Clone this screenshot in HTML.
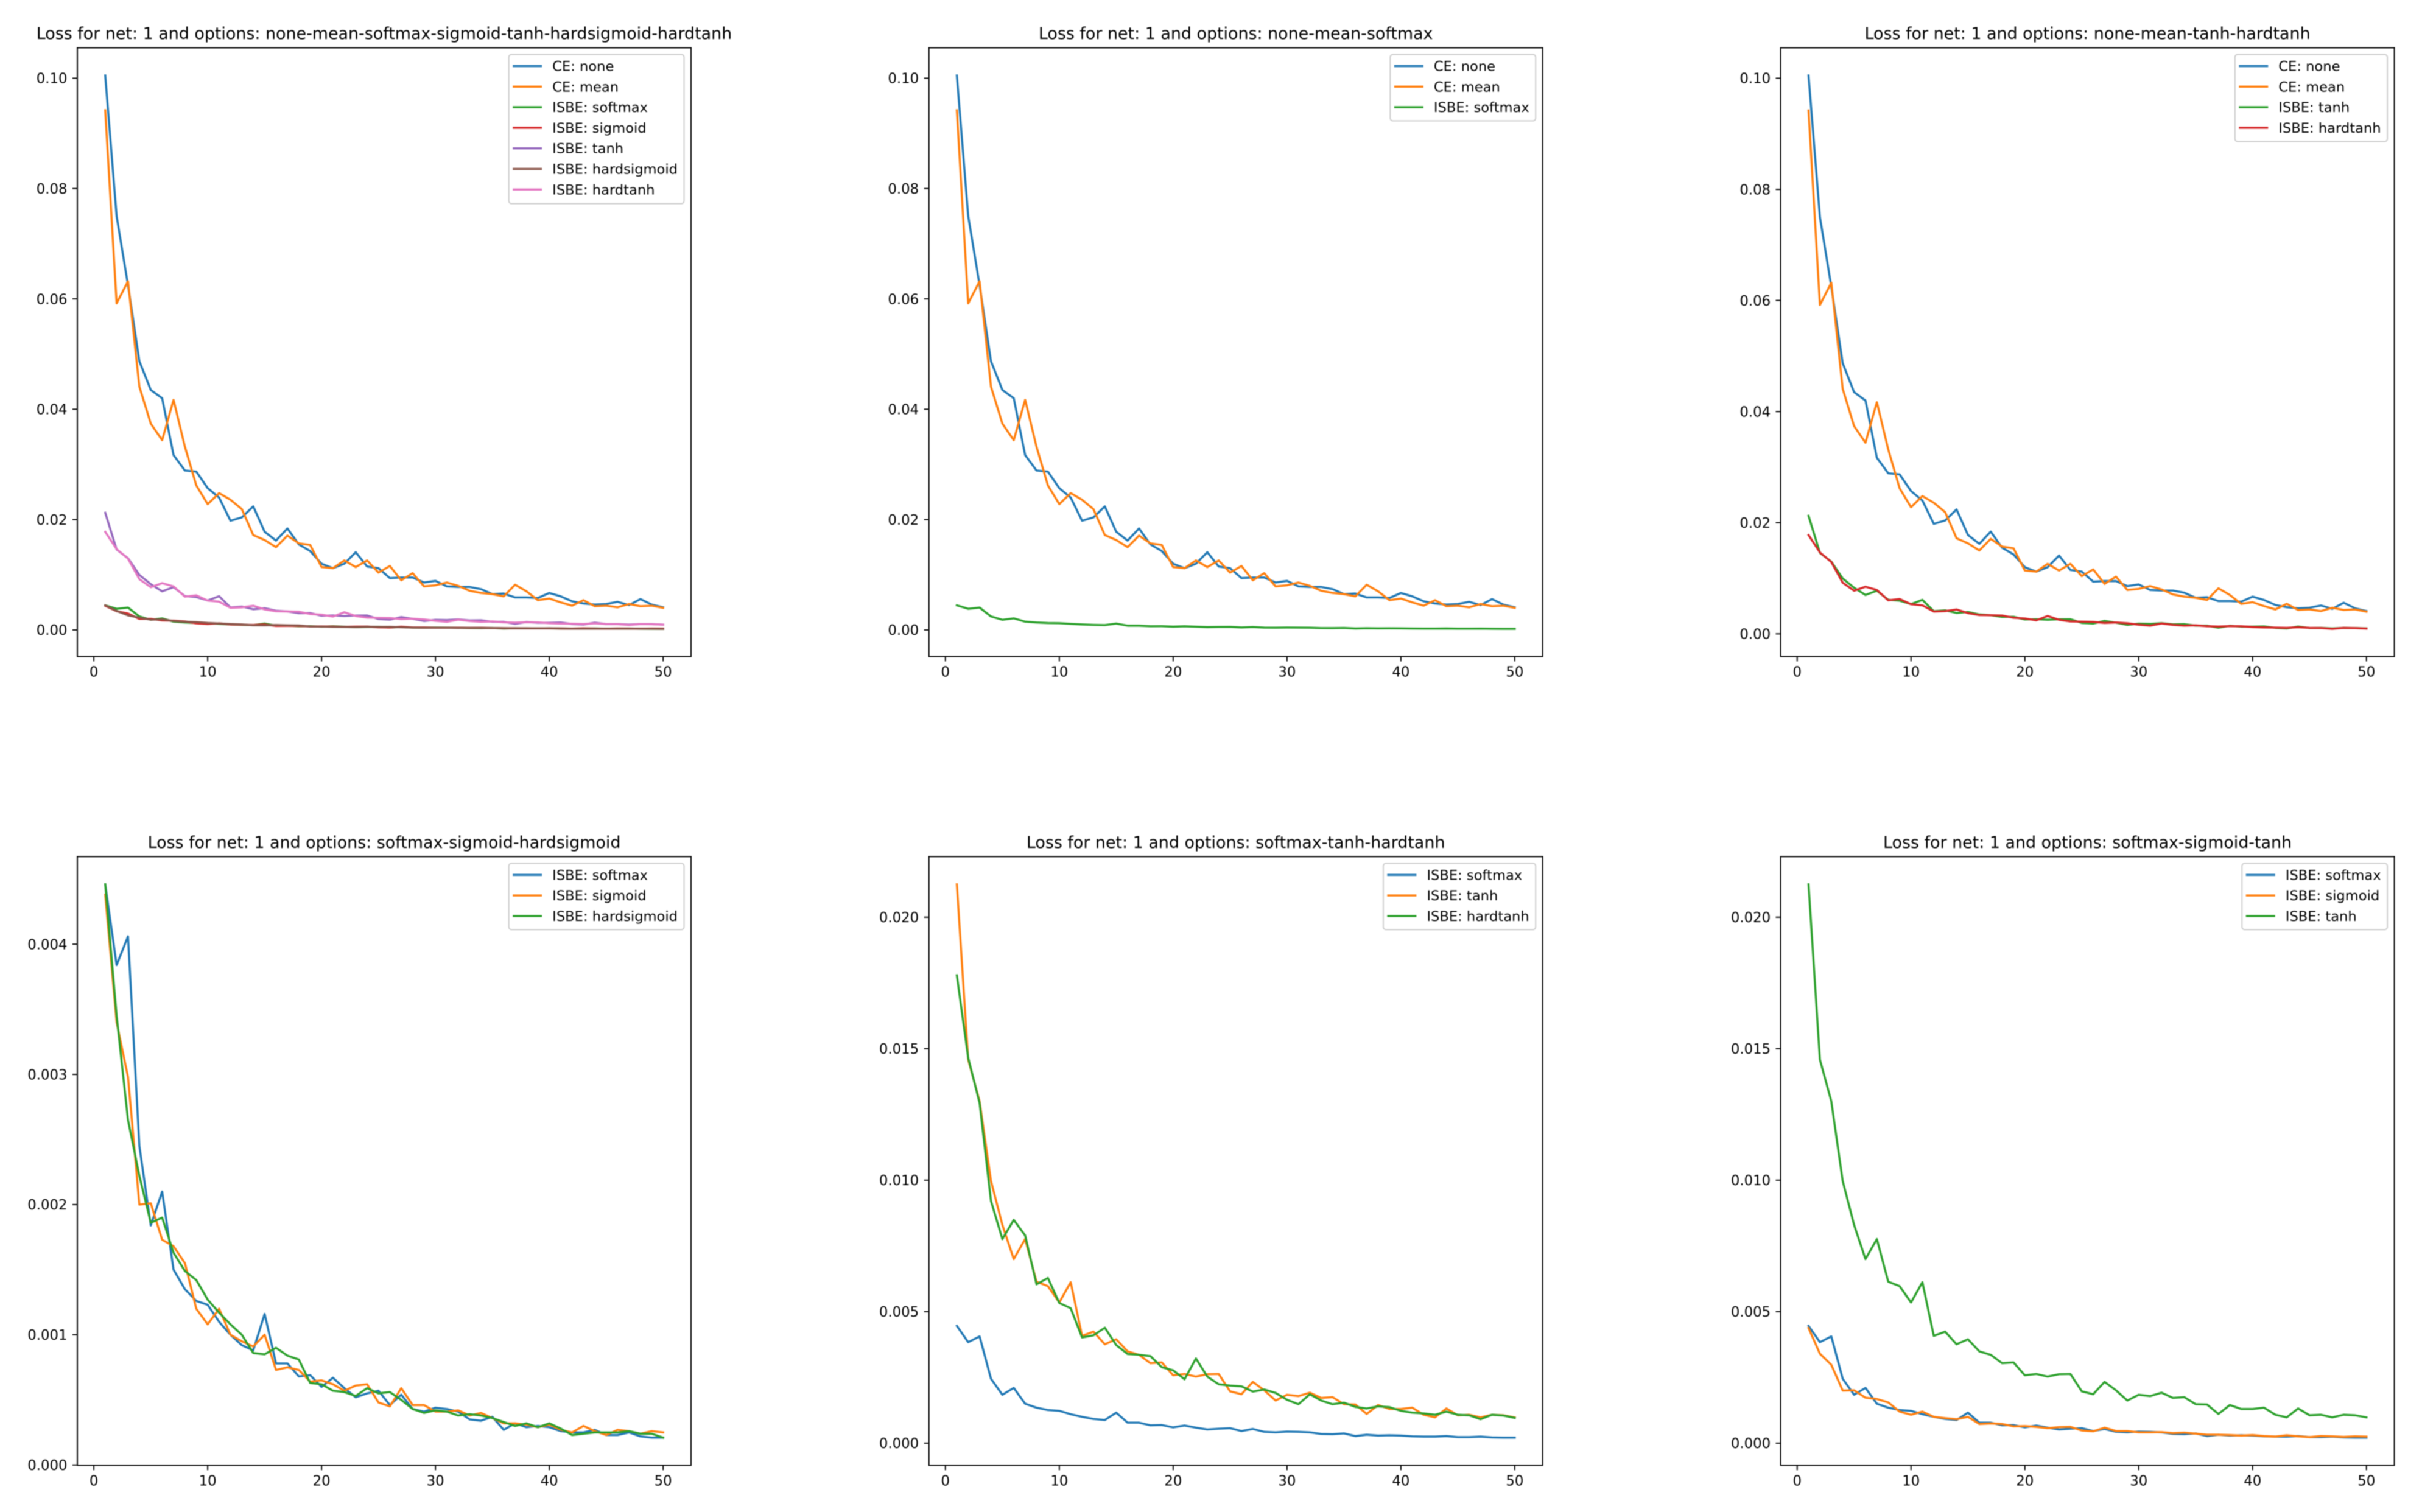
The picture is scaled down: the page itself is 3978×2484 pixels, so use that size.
<!DOCTYPE html>
<html lang="en">
<head>
<meta charset="utf-8">
<title>Loss comparison charts</title>
<style>
html,body{margin:0;padding:0;background:#fff;width:3978px;height:2484px;overflow:hidden}
#figure{display:block;filter:blur(0.9px)}
text{font-family:"DejaVu Sans","Liberation Sans",sans-serif;fill:#000}
</style>
</head>
<body>
<svg id="figure" xmlns="http://www.w3.org/2000/svg" width="3978" height="2484" viewBox="0 0 3978 2484"></svg>
<script>
const epochs = [1,2,3,4,5,6,7,8,9,10,11,12,13,14,15,16,17,18,19,20,21,22,23,24,25,26,27,28,29,30,31,32,33,34,35,36,37,38,39,40,41,42,43,44,45,46,47,48,49,50];

const ceNone = [.1005,.0750,.0625,.0487,.0435,.0420,.0317,.0289,.0287,.0257,.0240,.0198,.0204,.0224,.0178,.0162,.0184,.0155,.0143,.0120,.0112,.0120,.0141,.0115,.0112,.0094,.0095,.0095,.0086,.0089,.0079,.0078,.0078,.0074,.0065,.0066,.0059,.0059,.0058,.0067,.0061,.0052,.0048,.0046,.0047,.0051,.0045,.0056,.0046,.0041];
const ceMean = [.0942,.0592,.0632,.0441,.0374,.0344,.0417,.0332,.0262,.0228,.0248,.0236,.0219,.0172,.0163,.0150,.0171,.0157,.0154,.0114,.0112,.0126,.0114,.0126,.0104,.0116,.0090,.0103,.0079,.0081,.0086,.0080,.0071,.0067,.0065,.0061,.0082,.0070,.0054,.0057,.0050,.0044,.0054,.0043,.0044,.0041,.0047,.0043,.0044,.0040];
const isbeSoftmax = [.00446,.00384,.00406,.00245,.00184,.00210,.00150,.00135,.00126,.00123,.00110,.00100,.00092,.00088,.00116,.00078,.00078,.00068,.00069,.00060,.00067,.00059,.00052,.00055,.00057,.00046,.00054,.00043,.00041,.00044,.00043,.00041,.00035,.00034,.00037,.00027,.00032,.00029,.00030,.00029,.00026,.00025,.00025,.00027,.00023,.00023,.00025,.00022,.00021,.00021];
const isbeSigmoid = [.00438,.00340,.00298,.00200,.00201,.00173,.00168,.00155,.00120,.00108,.00120,.00100,.00095,.00091,.00100,.00073,.00075,.00073,.00064,.00065,.00062,.00057,.00061,.00062,.00048,.00045,.00059,.00046,.00046,.00041,.00041,.00042,.00038,.00040,.00036,.00032,.00032,.00031,.00029,.00031,.00027,.00025,.00030,.00026,.00023,.00027,.00026,.00024,.00026,.00025];
const isbeTanh = [.02125,.01458,.0130,.00997,.0083,.0070,.00776,.00614,.00597,.00535,.00612,.00408,.00424,.00376,.00395,.00349,.00336,.00304,.00307,.00258,.00263,.00253,.00262,.00263,.00197,.00186,.00233,.00201,.00162,.00184,.00179,.00192,.00172,.00175,.00148,.00147,.00111,.00145,.0013,.0013,.00135,.00108,.00098,.00132,.00106,.00108,.00098,.00108,.00106,.00098];
const isbeHardsigmoid = [.00446,.00345,.00265,.00222,.00186,.00190,.00163,.00149,.00142,.00127,.00117,.00108,.00100,.00086,.00085,.00090,.00084,.00081,.00063,.00062,.00057,.00056,.00053,.00059,.00055,.00056,.00050,.00043,.00040,.00042,.00041,.00038,.00039,.00038,.00036,.00033,.00030,.00032,.00029,.00032,.00028,.00023,.00024,.00025,.00025,.00025,.00026,.00024,.00024,.00021];
const isbeHardtanh = [.01779,.01465,.01293,.00921,.00776,.00849,.0079,.00604,.00628,.00533,.00513,.00402,.0041,.00439,.00373,.00339,.00336,.00331,.00289,.00277,.00243,.00322,.00253,.00224,.00219,.00216,.00196,.00204,.00191,.00165,.00148,.00186,.00162,.00148,.00154,.00138,.00132,.0014,.00137,.00123,.00116,.00113,.00108,.0012,.00108,.00106,.00091,.00108,.00105,.00096];

const xTickLabels = ['0','10','20','30','40','50'];
const yTicksCe = ['0.00','0.02','0.04','0.06','0.08','0.10'];
const yTicksFine = ['0.000','0.001','0.002','0.003','0.004'];
const yTicksMid = ['0.000','0.005','0.010','0.015','0.020'];

const seriesNone = {label:'CE: none', key:'ce-none', values:ceNone};
const seriesMean = {label:'CE: mean', key:'ce-mean', values:ceMean};
const seriesSoftmax = {label:'ISBE: softmax', key:'isbe-softmax', values:isbeSoftmax};
const seriesSigmoid = {label:'ISBE: sigmoid', key:'isbe-sigmoid', values:isbeSigmoid};
const seriesTanh = {label:'ISBE: tanh', key:'isbe-tanh', values:isbeTanh};
const seriesHardsigmoid = {label:'ISBE: hardsigmoid', key:'isbe-hardsigmoid', values:isbeHardsigmoid};
const seriesHardtanh = {label:'ISBE: hardtanh', key:'isbe-hardtanh', values:isbeHardtanh};

const panelTitles = [
  'Loss for net: 1 and options: none-mean-softmax-sigmoid-tanh-hardsigmoid-hardtanh',
  'Loss for net: 1 and options: none-mean-softmax',
  'Loss for net: 1 and options: none-mean-tanh-hardtanh',
  'Loss for net: 1 and options: softmax-sigmoid-hardsigmoid',
  'Loss for net: 1 and options: softmax-tanh-hardtanh',
  'Loss for net: 1 and options: softmax-sigmoid-tanh'
];
const panelSeries = [
  [seriesNone,seriesMean,seriesSoftmax,seriesSigmoid,seriesTanh,seriesHardsigmoid,seriesHardtanh],
  [seriesNone,seriesMean,seriesSoftmax],
  [seriesNone,seriesMean,seriesTanh,seriesHardtanh],
  [seriesSoftmax,seriesSigmoid,seriesHardsigmoid],
  [seriesSoftmax,seriesTanh,seriesHardtanh],
  [seriesSoftmax,seriesSigmoid,seriesTanh]
];
const panelYTicks = [yTicksCe,yTicksCe,yTicksCe,yTicksFine,yTicksMid,yTicksMid];

const palette = ['#1f77b4','#ff7f0e','#2ca02c','#d62728','#9467bd','#8c564b','#e377c2'];
const columnLeft = [127,1525.7,2924.6];
const rowTop = [78.5,1407.3];
const axesWidth = 1008;
const axesHeight = 1000;

const NS = 'http://www.w3.org/2000/svg';
const figure = document.getElementById('figure');
function make(tag, parent, attrs, text) {
  const el = document.createElementNS(NS, tag);
  for (const k in attrs) el.setAttribute(k, attrs[k]);
  if (text !== undefined) el.textContent = text;
  parent.appendChild(el);
  return el;
}
function autoLimits(values) {
  const lo = Math.min.apply(null, values), hi = Math.max.apply(null, values);
  const pad = (hi - lo) * 0.05;
  return [lo - pad, hi + pad];
}

panelTitles.forEach(function (title, p) {
  const left = columnLeft[p % 3], top = rowTop[Math.floor(p / 3)];
  const right = left + axesWidth, bottom = top + axesHeight;
  const series = panelSeries[p];
  const xLim = autoLimits(epochs);
  const yLim = autoLimits(series.reduce(function (a, s) { return a.concat(s.values); }, []));
  const xScale = function (v) { return left + (v - xLim[0]) / (xLim[1] - xLim[0]) * axesWidth; };
  const yScale = function (v) { return bottom - (v - yLim[0]) / (yLim[1] - yLim[0]) * axesHeight; };

  const panel = make('g', figure, {});
  
  

  const titleEl = make('text', panel, {x:(left + right) / 2, y:top - 14.5, 'text-anchor':'middle', 'font-size':26.9}, title);
  
  

  series.forEach(function (s, i) {
    const pts = epochs.map(function (e, j) { return xScale(e).toFixed(2) + ',' + yScale(s.values[j]).toFixed(2); }).join(' ');
    const line = make('polyline', panel, {points:pts, fill:'none', stroke:palette[i], 'stroke-width':3.4, 'stroke-linejoin':'round', 'stroke-linecap':'square'});
    
    
  });

  const frame = make('rect', panel, {x:left, y:top, width:axesWidth, height:axesHeight, fill:'none', stroke:'#000', 'stroke-width':1.9});
  
  

  xTickLabels.forEach(function (label) {
    const x = xScale(parseFloat(label));
    const tick = make('line', panel, {x1:x, x2:x, y1:bottom, y2:bottom + 8, stroke:'#000', 'stroke-width':1.9});
    
    
    const txt = make('text', panel, {x:x, y:bottom + 33, 'text-anchor':'middle', 'font-size':22.8}, label);
    
    
  });

  panelYTicks[p].forEach(function (label) {
    const y = yScale(parseFloat(label));
    const tick = make('line', panel, {x1:left - 8, x2:left, y1:y, y2:y, stroke:'#000', 'stroke-width':1.9});
    
    
    const txt = make('text', panel, {x:left - 16.5, y:y + 8.2, 'text-anchor':'end', 'font-size':22.8}, label);
    
    
  });

  const legend = make('g', panel, {});
  
  
  const legendBox = make('rect', legend, {y:top + 11, height:41 + 34 * (series.length - 1), rx:4.5, ry:4.5, fill:'#fff', 'fill-opacity':0.8, stroke:'#ccc', 'stroke-width':1.9});
  
  
  let maxText = 0;
  const entries = series.map(function (s, i) {
    const rowY = top + 30 + 33.8 * i;
    const handle = make('line', legend, {y1:rowY, y2:rowY, stroke:palette[i], 'stroke-width':3.4});
    
    
    const txt = make('text', legend, {y:rowY + 8, 'font-size':22.6}, s.label);
    
    
    maxText = Math.max(maxText, txt.getComputedTextLength());
    return {handle:handle, txt:txt};
  });
  const boxW = maxText + 71 + 11;
  const boxX = right - 11.5 - boxW;
  legendBox.setAttribute('x', boxX);
  legendBox.setAttribute('width', boxW);
  entries.forEach(function (e) {
    e.handle.setAttribute('x1', boxX + 6.5);
    e.handle.setAttribute('x2', boxX + 54.5);
    e.txt.setAttribute('x', boxX + 71.5);
  });
});
</script>
</body>
</html>
